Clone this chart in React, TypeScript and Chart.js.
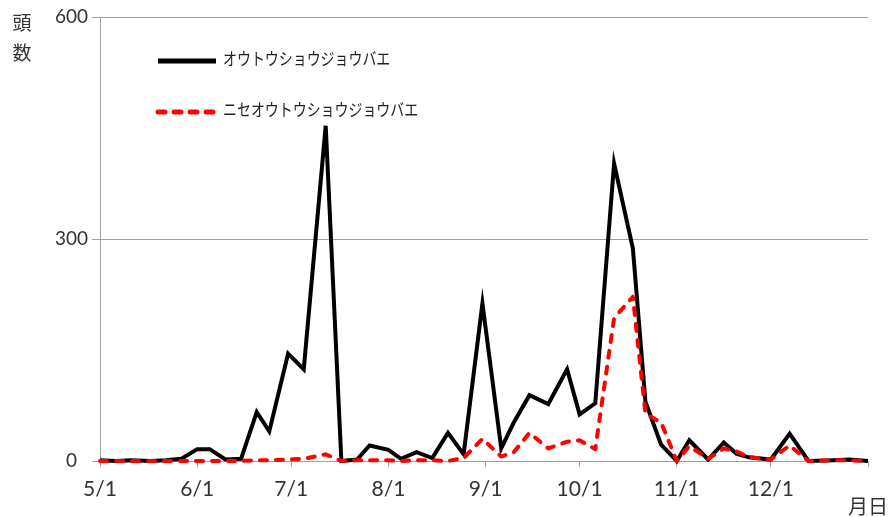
import React, { useEffect, useRef } from "react";
import { Chart, registerables } from "chart.js";

Chart.register(...registerables);

// Days counted from 5/1
const days = [
  0, 5, 10, 16, 21, 26, 31, 35, 40, 45, 50, 54, 60, 65, 72, 77, 82, 86, 92, 96, 101, 106, 111, 116,
  122, 128, 132, 137, 143, 149, 153, 158, 164, 170, 174, 179, 184, 188, 194, 199, 203, 207, 214, 220,
  226, 234, 239, 245,
];
const ohtouValues = [
  1, 0, 1, 0, 1, 3, 16, 16, 2, 3, 66, 40, 145, 124, 453, 0, 2, 21, 15, 3, 12, 4, 38, 9,
  213, 17, 52, 89, 77, 124, 63, 78, 402, 287, 80, 22, 0, 28, 2, 25, 10, 5, 2, 37,
  0, 1, 2, 0,
];
const niseValues = [
  0, 0, 0, 0, 0, 0, 0, 0, 0, 0, 1, 1, 2, 3, 9, 0, 1, 1, 1, 0, 1, 1, 0, 4,
  30, 6, 12, 38, 17, 26, 28, 16, 193, 222, 64, 52, 0, 20, 3, 17, 13, 5, 2, 21,
  0, 1, 1, 0,
];
const tickDays = [0, 31, 61, 92, 123, 153, 184, 214, 245];
const tickLabels = ["5/1", "6/1", "7/1", "8/1", "9/1", "10/1", "11/1", "12/1", ""];
const yTicks = [0, 300, 600];
const seriesNames = ["オウトウショウジョウバエ", "ニセオウトウショウジョウバエ"];
const yAxisTitle = ["頭", "数"];
const xAxisTitle = "月日";

const JP = '"Noto Sans CJK JP", "Noto Sans", sans-serif';
const NUM = 'Lato, "Open Sans", sans-serif';

const overlayPlugin = {
  id: "overlay",
  afterDraw(chart: any) {
    const ctx = chart.ctx as CanvasRenderingContext2D;
    const area = chart.chartArea;
    ctx.save();
    // Legend
    chart.data.datasets.forEach((ds: any, i: number) => {
      const y = area.top + 44 + i * 51;
      const x0 = area.left + 58;
      ctx.beginPath();
      ctx.setLineDash(ds.borderDash || []);
      ctx.lineWidth = 5;
      ctx.lineCap = ds.borderDash ? "round" : "butt";
      ctx.strokeStyle = ds.borderColor;
      ctx.moveTo(x0, y);
      ctx.lineTo(x0 + 58, y);
      ctx.stroke();
      ctx.setLineDash([]);
      ctx.save();
      ctx.translate(x0 + 65, y - 2);
      ctx.scale(0.82, 1);
      ctx.font = `17px ${JP}`;
      ctx.textBaseline = "middle";
      ctx.textAlign = "left";
      ctx.fillStyle = "#222";
      ctx.fillText(ds.label, 0, 0);
      ctx.restore();
    });
    // Axis titles
    ctx.font = `19px ${JP}`;
    ctx.fillStyle = "#333";
    ctx.textAlign = "center";
    ctx.textBaseline = "middle";
    ctx.fillText(yAxisTitle[0], 22, 23);
    ctx.fillText(yAxisTitle[1], 22, 53);
    ctx.font = `20px ${JP}`;
    ctx.fillText(xAxisTitle, 868, 506);
    ctx.restore();
  },
};

export default function App() {
  const canvasRef = useRef<HTMLCanvasElement | null>(null);

  useEffect(() => {
    if (!canvasRef.current) return;
    const chart = new Chart(canvasRef.current, {
      type: "line",
      data: {
        datasets: [
          {
            label: seriesNames[0],
            data: days.map((d, i) => ({ x: d, y: ohtouValues[i] })),
            borderColor: "#000000",
            backgroundColor: "#000000",
            borderWidth: 4,
            pointRadius: 0,
            tension: 0,
            borderJoinStyle: "miter",
            clip: false,
            order: 1,
          },
          {
            label: seriesNames[1],
            data: days.map((d, i) => ({ x: d, y: niseValues[i] })),
            borderColor: "#ff0000",
            backgroundColor: "#ff0000",
            borderWidth: 4,
            borderDash: [7, 9],
            borderCapStyle: "round",
            borderJoinStyle: "round",
            pointRadius: 0,
            tension: 0,
            clip: false,
            order: 0,
          },
        ],
      },
      options: {
        animation: false,
        responsive: true,
        maintainAspectRatio: false,
        layout: { padding: { left: 0, top: 17, right: 20, bottom: 0 } },
        plugins: {
          legend: { display: false },
          tooltip: { enabled: false },
        },
        scales: {
          x: {
            type: "linear",
            min: 0,
            max: 245,
            afterBuildTicks: (scale: any) => {
              scale.ticks = tickDays.map((v) => ({ value: v }));
            },
            afterFit: (scale: any) => {
              scale.height = 56;
            },
            ticks: {
              autoSkip: false,
              maxRotation: 0,
              minRotation: 0,
              padding: 10,
              color: "#333",
              font: { family: NUM, size: 21 },
              callback: (_v: any, index: number) => tickLabels[index],
            },
            grid: {
              drawOnChartArea: false,
              drawTicks: true,
              tickLength: 6,
              color: "#a0a0a0",
              lineWidth: 1,
            },
            border: { display: true, color: "#a0a0a0", width: 1 },
          },
          y: {
            min: 0,
            max: 600,
            afterBuildTicks: (scale: any) => {
              scale.ticks = yTicks.map((v) => ({ value: v }));
            },
            afterFit: (scale: any) => {
              scale.width = 100;
            },
            ticks: {
              padding: 4,
              crossAlign: "center",
              color: "#333",
              font: { family: NUM, size: 19 },
            },
            grid: {
              color: "#a0a0a0",
              lineWidth: 1,
              tickLength: 8,
            },
            border: { display: true, color: "#a0a0a0", width: 1 },
          },
        },
      },
      plugins: [overlayPlugin],
    });
    return () => chart.destroy();
  }, []);

  return (
    <div
      style={{
        position: "fixed",
        left: 0,
        top: 0,
        width: 888,
        height: 517,
        background: "#ffffff",
      }}
    >
      <canvas ref={canvasRef} />
    </div>
  );
}
